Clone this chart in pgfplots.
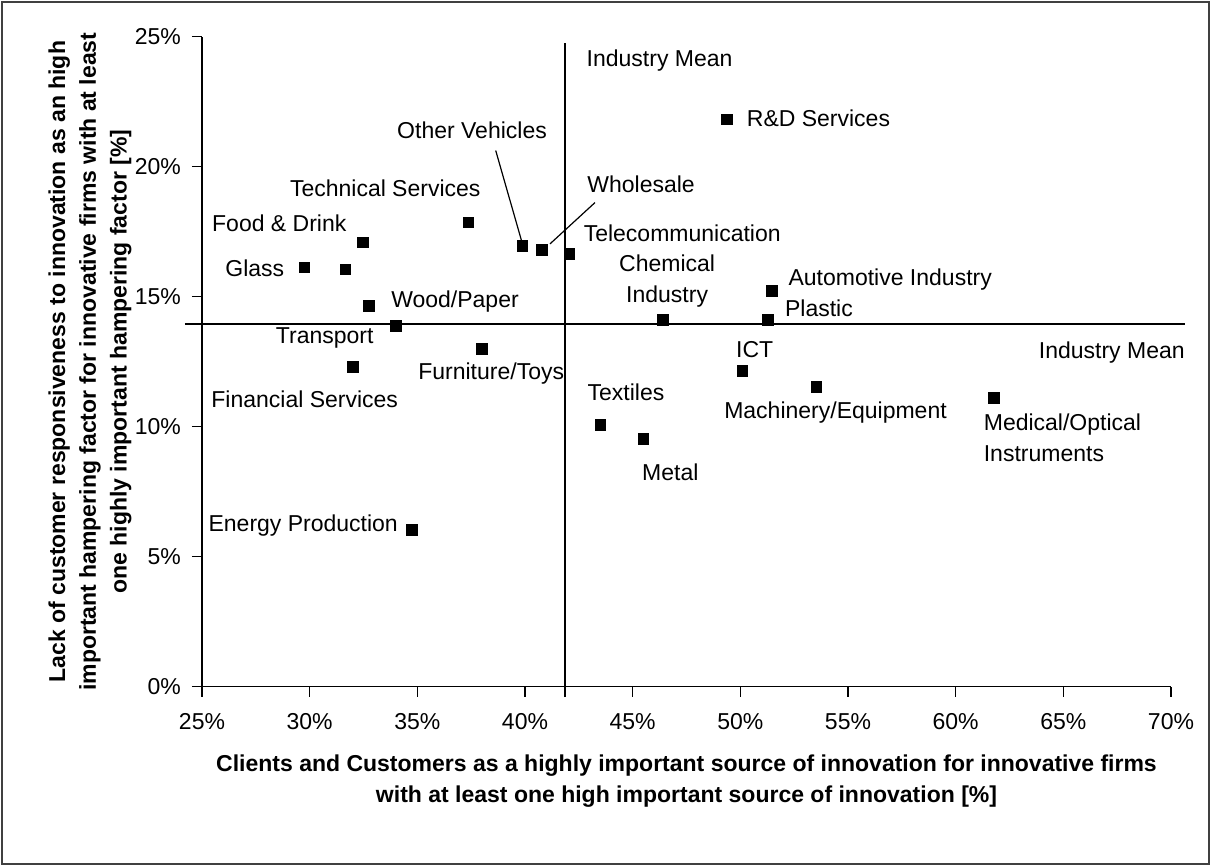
\documentclass[border=0pt]{standalone}
\usepackage{pgfplots}
\pgfplotsset{compat=1.18}
\usepackage{fontspec}
\setmainfont{Liberation Sans}
\newcommand{\lbl}{\fontsize{11.5}{15.4}\selectfont}
\begin{document}
\begin{tikzpicture}[x=1pt,y=1pt]
\useasboundingbox (0,0) rectangle (605,432.5);
\draw[line width=0.8pt, black!75] (1,0.5) rectangle (604.5,431.5);
\begin{axis}[
  at={(101pt,89.15pt)}, anchor=south west,
  scale only axis, width=484.5pt, height=325pt,
  xmin=25, xmax=70, ymin=0, ymax=25,
  clip=false,
  axis x line*=bottom, axis y line*=left,
  axis line style={black, line width=0.6pt},
  tick align=outside, major tick length=5pt,
  tick style={black, line width=0.6pt},
  xtick={25,30,...,70}, ytick={0,5,...,25},
  xticklabels={25\%,30\%,35\%,40\%,45\%,50\%,55\%,60\%,65\%,70\%},
  yticklabels={0\%,5\%,10\%,15\%,20\%,25\%},
  every tick label/.append style={font=\lbl},
  xticklabel style={yshift=-5pt},
  yticklabel style={xshift=-2pt},
  xlabel={Clients and Customers as a highly important source of innovation for innovative firms\\with at least one high important source of innovation [\%]},
  xlabel style={at={(axis description cs:0.5,-0.1456)}, anchor=center, align=center, font=\lbl\bfseries},
  ylabel={Lack of customer responsiveness to innovation as an high\\important hampering factor for innovative firms with at least\\one highly important hampering factor [\%]},
  ylabel style={at={(axis description cs:-0.1156,0.5)}, anchor=center, rotate=0, align=center, font=\lbl\bfseries},
]
% mean lines
\addplot[black, line width=0.9pt] coordinates {(41.87,-0.40) (41.87,24.76)};
\addplot[black, line width=0.9pt] coordinates {(24.21,13.95) (70.66,13.95)};
% leader lines
\addplot[black, line width=0.6pt] coordinates {(38.64,20.62) (39.84,17.15)};
\addplot[black, line width=0.6pt] coordinates {(43.25,18.62) (41.16,17.03)};
% industries
\addplot[only marks, mark=square*, mark size=2.67pt, black] coordinates {
(29.75,16.13) % Glass
(31.66,16.05)
(32.48,17.09) % Food & Drink
(37.37,17.86) % Technical Services
(39.88,16.95) % Other Vehicles
(40.79,16.80) % Wholesale
(42.06,16.64) % Telecommunication
(32.74,14.65) % Wood/Paper
(34.01,13.87) % Transport
(37.99,12.98) % Furniture/Toys
(32.01,12.30) % Financial Services
(34.74,6.03)  % Energy Production
(49.38,21.82) % R&D Services
(51.46,15.23) % Automotive
(46.40,14.10) % Chemical
(51.27,14.10) % Plastic
(50.10,12.15) % ICT
(53.53,11.54) % Machinery
(43.50,10.07) % Textiles
(45.50,9.53)  % Metal
(61.79,11.12) % Medical
};
\begin{scope}[every node/.style={font=\lbl, inner sep=0pt}]
\node at (axis cs:37.54,21.41) {Other Vehicles};
\node at (axis cs:33.51,19.17) {Technical Services};
\node at (axis cs:28.59,17.82) {Food \& Drink};
\node at (axis cs:27.45,16.09) {Glass};
\node at (axis cs:36.75,14.81) {Wood/Paper};
\node at (axis cs:30.70,13.40) {Transport};
\node at (axis cs:38.43,12.05) {Furniture/Toys};
\node at (axis cs:29.77,11.05) {Financial Services};
\node at (axis cs:29.70,6.19) {Energy Production};
\node at (axis cs:46.25,24.08) {Industry Mean};
\node at (axis cs:53.63,21.86) {R\&D Services};
\node at (axis cs:45.39,19.33) {Wholesale};
\node at (axis cs:47.30,17.44) {Telecommunication};
\node[align=center] at (axis cs:46.60,15.59) {Chemical\\Industry};
\node at (axis cs:56.96,15.67) {Automotive Industry};
\node at (axis cs:53.65,14.55) {Plastic};
\node at (axis cs:50.67,12.95) {ICT};
\node at (axis cs:44.69,11.31) {Textiles};
\node at (axis cs:54.42,10.55) {Machinery/Equipment};
\node at (axis cs:46.75,8.23) {Metal};
\node at (axis cs:67.25,12.85) {Industry Mean};
\node[align=left, anchor=west] at (axis cs:61.29,9.57) {Medical/Optical\\Instruments};
\end{scope}
\end{axis}
\end{tikzpicture}
\end{document}
